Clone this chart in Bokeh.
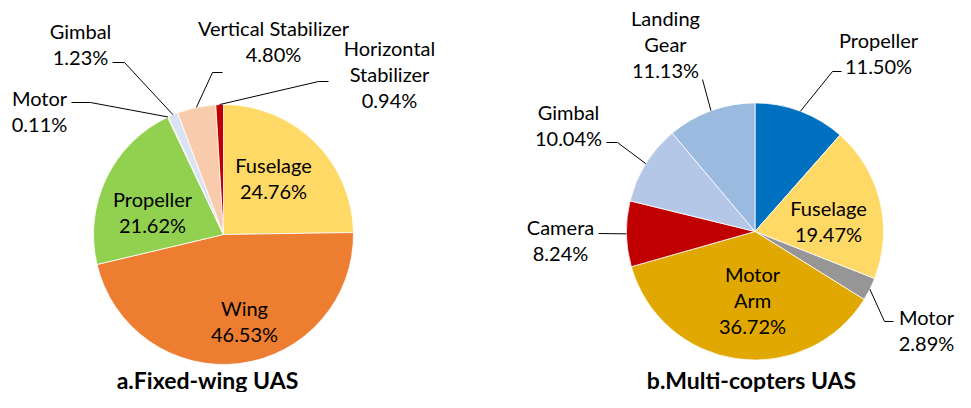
import math
from bokeh.plotting import figure
from bokeh.models import ColumnDataSource, Range1d
from bokeh.core.properties import value
from bokeh.embed import file_html
from bokeh.resources import INLINE

# ---------------- data ----------------
fw_parts = ["Fuselage", "Wing", "Propeller", "Motor", "Gimbal",
            "Vertical Stabilizer", "Horizontal\nStabilizer"]
fw_values = [24.76, 46.53, 21.62, 0.11, 1.23, 4.80, 0.94]
fw_colors = ["#FFD966", "#ED7D31", "#92D050", "#FFC000", "#DAE3F3", "#F8CBAD", "#C00000"]

mc_parts = ["Propeller", "Fuselage", "Motor", "Motor\nArm", "Camera", "Gimbal", "Landing\nGear"]
mc_values = [11.50, 19.47, 2.89, 36.72, 8.24, 10.04, 11.13]
mc_colors = ["#0070C0", "#FFD966", "#969696", "#E0A800", "#C00000", "#B4C7E7", "#9BBAE0"]

titles = ["a.Fixed-wing UAS", "b.Multi-copters UAS"]

# ---------------- layout (screen px) ----------------
W, H = 955, 392
FONT = "Lato"
FS = "20px"
TITLE_FS = "23px"
LINE_H = 26

def Y(sy):  # screen y -> data y
    return H - sy

pies = [
    dict(parts=fw_parts, values=fw_values, colors=fw_colors, cx=223, cy=234, r=130,
         labels=[(273, 164), (244, 307), (152, 198), (39, 97), (80, 30), (273, 27), (389, 47)],
         leaders={3: ((71, 102), (90, 102)), 4: ((112, 62), (124, 62)),
                  5: ((222, 72), (212, 72)), 6: ((328, 81), (318, 81))},
         title=(207, 379)),
    dict(parts=mc_parts, values=mc_values, colors=mc_colors, cx=754.5, cy=231, r=128.6,
         labels=[(878, 39), (828, 207), (926, 316), (752, 273), (560, 226), (568, 111), (665, 17)],
         leaders={0: ((841, 71), (832, 71)), 2: ((893, 321), (884, 321)),
                  4: ((598, 233), (598, 233)), 5: ((606, 142), (617, 142)),
                  6: ((702, 79), (702, 79))},
         title=(751, 379)),
]

p = figure(width=W, height=H, output_backend="svg", toolbar_location=None,
           x_range=Range1d(0, W), y_range=Range1d(0, H), min_border=0)
p.axis.visible = False
p.grid.visible = False
p.outline_line_color = None
p.background_fill_color = "white"
p.border_fill_color = "white"

for i, pie in enumerate(pies):
    vals = pie["values"]
    total = sum(vals)
    cum = 0.0
    starts, ends, mids = [], [], []
    for v in vals:
        a0 = math.pi / 2 - 2 * math.pi * cum / total
        cum += v
        a1 = math.pi / 2 - 2 * math.pi * cum / total
        starts.append(a0)
        ends.append(a1)
        mids.append((a0 + a1) / 2)
    src = ColumnDataSource(dict(x=[pie["cx"]] * len(vals), y=[Y(pie["cy"])] * len(vals),
                                start=starts, end=ends, color=pie["colors"]))
    p.wedge(x="x", y="y", radius=pie["r"], start_angle="start", end_angle="end",
            direction="clock", fill_color="color", line_color="white", line_width=0.8,
            source=src)

    # leader lines
    for k, (st, el) in pie["leaders"].items():
        ex = pie["cx"] + pie["r"] * math.cos(mids[k])
        ey = Y(pie["cy"]) + pie["r"] * math.sin(mids[k])
        p.line(x=[st[0], el[0], ex], y=[Y(st[1]), Y(el[1]), ey],
               line_color="black", line_width=1)

    # labels
    tx, ty, tt = [], [], []
    for k, name in enumerate(pie["parts"]):
        lines = name.split("\n") + [f"{vals[k]:.2f}%"]
        lx, ly = pie["labels"][k]
        for j, ln in enumerate(lines):
            tx.append(lx)
            ty.append(Y(ly + j * LINE_H))
            tt.append(ln)
    p.text(x=tx, y=ty, text=tt, text_font=value(FONT), text_font_size=FS,
           text_align="center", text_baseline="middle", text_color="black")

    # title
    p.text(x=[pie["title"][0]], y=[Y(pie["title"][1])], text=[titles[i]],
           text_font=value(FONT), text_font_size=TITLE_FS, text_font_style="bold",
           text_align="center", text_baseline="middle", text_color="black")

open("out.html", "w").write(file_html(p, INLINE))
